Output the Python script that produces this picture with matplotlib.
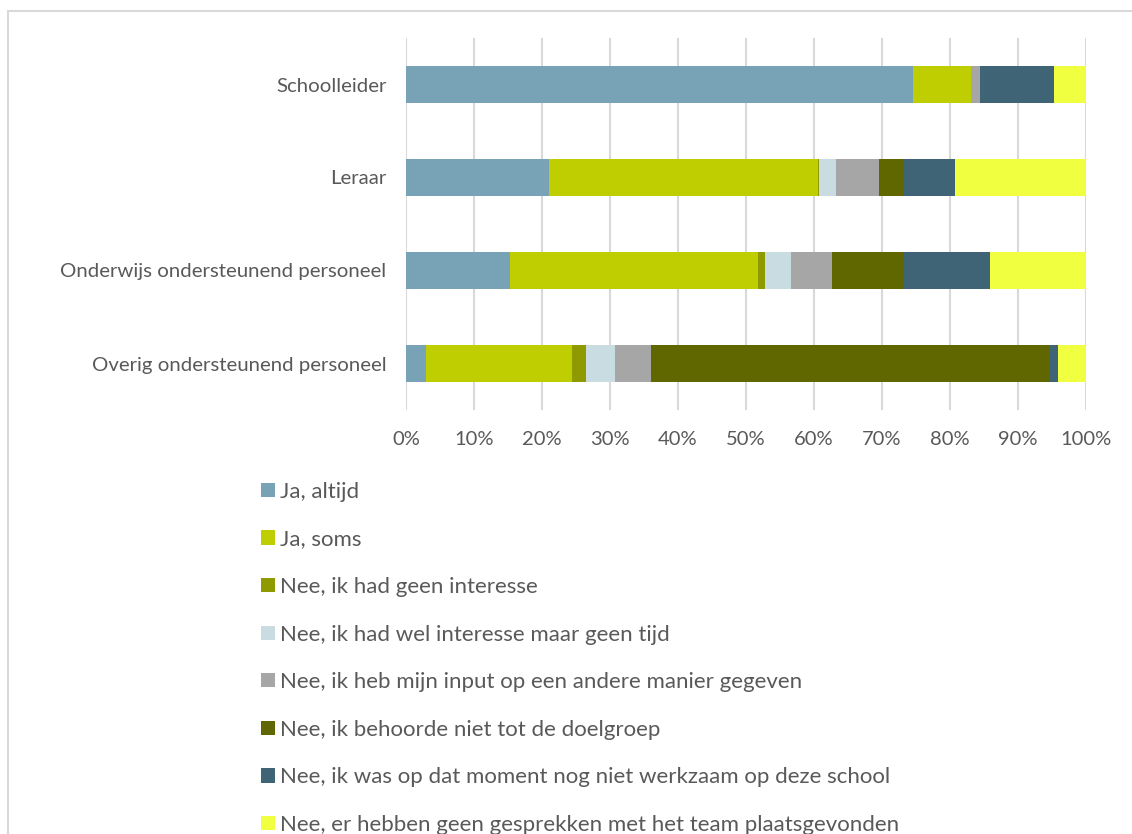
import numpy as np
import matplotlib
matplotlib.use('Agg')
import matplotlib.pyplot as plt
from matplotlib.patches import Rectangle

# categories (top to bottom) and answers
groups = ['Schoolleider', 'Leraar', 'Onderwijs ondersteunend personeel', 'Overig ondersteunend personeel']
answers = ['Ja, altijd',
           'Ja, soms',
           'Nee, ik had geen interesse',
           'Nee, ik had wel interesse maar geen tijd',
           'Nee, ik heb mijn input op een andere manier gegeven',
           'Nee, ik behoorde niet tot de doelgroep',
           'Nee, ik was op dat moment nog niet werkzaam op deze school',
           'Nee, er hebben geen gesprekken met het team plaatsgevonden']

# percentages per group, same order as answers
schoolleider = [74.6, 8.5, 0.0, 0.0, 1.3, 0.0, 10.9, 4.7]
leraar = [21.0, 39.6, 0.2, 2.5, 6.3, 3.7, 7.5, 19.2]
onderwijs_ond = [15.3, 36.4, 1.1, 3.8, 6.1, 10.6, 12.6, 14.1]
overig_ond = [3.0, 21.4, 2.1, 4.3, 5.3, 58.6, 1.2, 4.1]

ticks = [0, 10, 20, 30, 40, 50, 60, 70, 80, 90, 100]

colors = ['#78A2B6', '#BFCE00', '#8F9A00', '#C8DCE2', '#A6A6A6', '#606600', '#3E6475', '#F0FF40']

plt.rcParams['font.family'] = ['Lato', 'DejaVu Sans']
txt = '#595959'
grid = '#D9D9D9'

data = np.array([schoolleider, leraar, onderwijs_ond, overig_ond])

fig = plt.figure(figsize=(11.32, 8.34), dpi=100)
ax = fig.add_axes([406/1132, 1-410/834, 680/1132, 372/834])

y = np.arange(len(groups))
left = np.zeros(len(groups))
for k in range(len(answers)):
    ax.barh(y, data[:, k], left=left, height=0.39, color=colors[k], label=answers[k], zorder=3)
    left = left + data[:, k]

ax.set_xlim(0, 100)
ax.set_ylim(len(groups)-0.5, -0.5)
ax.set_xticks(ticks)
ax.set_xticklabels([str(t)+'%' for t in ticks], fontsize=14.5, color=txt)
ax.set_yticks(y)
ax.set_yticklabels(groups, fontsize=14.7, color=txt)
ax.tick_params(length=0)
ax.tick_params(axis='x', pad=15)
ax.tick_params(axis='y', pad=14)
for s in ax.spines.values():
    s.set_visible(False)
ax.grid(axis='x', color=grid, linewidth=1.5, zorder=0)

leg = fig.legend(loc='upper left', bbox_to_anchor=(252/1132, 1-473/834), ncol=1, frameon=False,
                 fontsize=16, labelspacing=1.24, handlelength=0.62, handleheight=0.62,
                 handletextpad=0.25, borderaxespad=0)
for t in leg.get_texts():
    t.set_color(txt)

# outer chart frame
fig.patches.append(Rectangle((8/1132, -0.1), 1.2, 1-11/834+0.1, transform=fig.transFigure,
                             fill=False, edgecolor=grid, linewidth=1.5))

fig.savefig('out.png', dpi=100)
